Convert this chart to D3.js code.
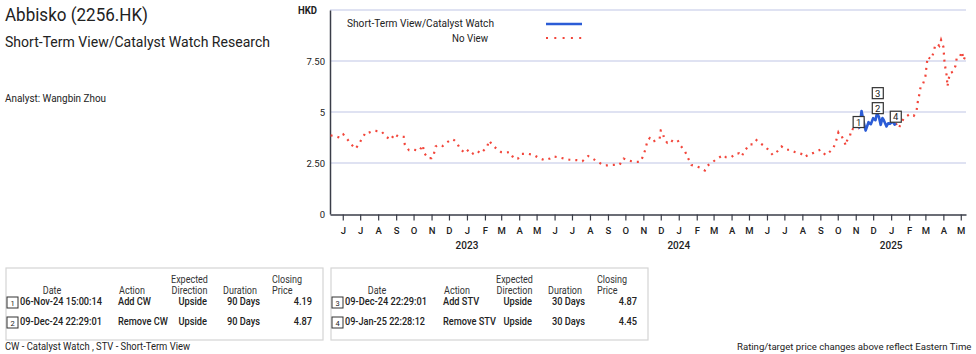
<!DOCTYPE html>
<html>
<head>
<meta charset="utf-8">
<script src="https://cdn.jsdelivr.net/npm/d3@7"></script>
<style>
  body { margin: 0; background: #fff; }
  svg text { font-family: Roboto, "Noto Sans", sans-serif; fill: #222; }
</style>
</head>
<body>
<svg id="chart" width="976" height="354"></svg>
<script>
// price history (HKD)
const priceDates = ["2022-05-11","2022-05-19","2022-05-28","2022-06-02","2022-06-08","2022-06-15","2022-06-23","2022-06-29","2022-07-04","2022-07-11","2022-07-15","2022-07-25","2022-08-07","2022-08-15","2022-08-23","2022-08-29","2022-09-05","2022-09-14","2022-09-16","2022-09-23","2022-09-30","2022-10-11","2022-10-17","2022-10-19","2022-10-26","2022-11-01","2022-11-05","2022-11-08","2022-11-12","2022-11-20","2022-11-27","2022-12-06","2022-12-10","2022-12-14","2022-12-20","2022-12-27","2023-01-01","2023-01-09","2023-01-18","2023-01-25","2023-02-01","2023-02-05","2023-02-08","2023-02-15","2023-02-21","2023-03-01","2023-03-09","2023-03-16","2023-03-23","2023-03-30","2023-04-05","2023-04-16","2023-04-26","2023-05-05","2023-05-15","2023-05-24","2023-05-29","2023-06-06","2023-06-17","2023-06-27","2023-07-09","2023-07-19","2023-07-29","2023-08-06","2023-08-16","2023-08-22","2023-08-28","2023-09-07","2023-09-14","2023-09-21","2023-09-28","2023-10-07","2023-10-17","2023-10-27","2023-11-01","2023-11-05","2023-11-08","2023-11-12","2023-11-17","2023-11-23","2023-11-29","2023-12-01","2023-12-04","2023-12-07","2023-12-12","2023-12-17","2023-12-22","2023-12-30","2024-01-04","2024-01-12","2024-01-17","2024-01-23","2024-01-31","2024-02-06","2024-02-15","2024-02-19","2024-02-26","2024-03-05","2024-03-12","2024-03-19","2024-03-22","2024-04-01","2024-04-09","2024-04-14","2024-04-18","2024-04-25","2024-05-02","2024-05-08","2024-05-14","2024-05-19","2024-05-27","2024-06-03","2024-06-11","2024-06-20","2024-06-26","2024-07-05","2024-07-11","2024-07-20","2024-07-30","2024-08-05","2024-08-11","2024-08-15","2024-08-23","2024-09-01","2024-09-10","2024-09-16","2024-09-23","2024-09-28","2024-10-02","2024-10-04","2024-10-07","2024-10-15","2024-10-17","2024-10-22","2024-10-25","2024-10-31","2024-11-06","2024-11-08","2024-11-11","2024-11-14","2024-11-18","2024-11-23","2024-11-27","2024-12-01","2024-12-05","2024-12-07","2024-12-09","2024-12-11","2024-12-14","2024-12-17","2024-12-19","2024-12-24","2024-12-27","2024-12-30","2025-01-04","2025-01-07","2025-01-09","2025-01-14","2025-01-23","2025-02-02","2025-02-09","2025-02-14","2025-02-16","2025-02-19","2025-02-21","2025-02-25","2025-03-01","2025-03-03","2025-03-05","2025-03-08","2025-03-11","2025-03-15","2025-03-18","2025-03-22","2025-03-25","2025-03-28","2025-04-01","2025-04-03","2025-04-05","2025-04-07","2025-04-08","2025-04-09","2025-04-12","2025-04-18","2025-04-22","2025-04-24","2025-04-29","2025-05-03","2025-05-06","2025-05-09"];
const priceValues = [3.85,3.82,3.73,3.90,3.70,3.43,3.20,3.43,3.70,4.01,3.98,4.08,4.04,3.78,3.64,3.93,3.78,3.78,3.39,3.13,3.16,3.10,3.38,3.00,2.74,2.74,2.94,3.31,3.38,3.33,3.50,3.67,3.62,3.52,3.21,3.02,3.15,2.92,3.10,2.97,3.18,3.31,3.60,3.35,3.20,3.03,3.02,3.03,2.71,2.72,2.95,2.95,2.90,2.74,2.64,2.72,2.82,2.79,2.72,2.66,2.64,2.59,2.84,2.71,2.53,2.43,2.38,2.40,2.41,2.41,2.72,2.61,2.56,2.56,2.87,3.21,3.60,3.72,3.54,3.62,3.68,4.09,4.06,3.67,3.50,3.64,3.55,3.62,3.36,3.06,2.74,2.40,2.35,2.28,2.13,2.36,2.49,2.67,2.79,2.89,2.79,2.80,2.97,2.97,2.82,3.15,3.41,3.41,3.62,3.50,3.34,3.16,2.89,3.10,3.31,3.15,3.15,3.03,2.95,2.79,2.90,2.94,3.03,3.15,2.89,3.02,3.20,3.57,3.99,3.88,3.87,3.36,3.60,3.83,4.18,4.11,4.19,4.30,5.05,4.60,4.09,4.50,4.40,4.70,4.60,4.86,4.87,4.75,4.37,4.70,4.62,4.29,4.45,4.42,4.53,4.38,4.45,4.21,4.71,4.89,4.81,5.09,5.51,5.92,6.28,6.38,6.74,7.26,7.70,7.64,7.59,7.91,8.28,8.33,8.24,8.53,8.20,7.44,7.06,6.74,6.25,6.41,6.90,6.98,7.27,7.64,7.68,7.96,7.55,7.75];

// Short-Term View / Catalyst Watch period
const viewPeriod = ["2024-11-06", "2025-01-09"];

// numbered markers on the chart
const markerNums = [1, 2, 3, 4];
const markerDates = ["2024-11-06", "2024-12-09", "2024-12-09", "2025-01-09"];
const markerPrices = [4.19, 4.87, 4.87, 4.45];

// y axis
const yTickValues = [0, 2.5, 5, 7.5];
const yTickLabels = ["0", "2.50", "5", "7.50"];
const yGridValues = [2.5, 5, 7.5, 10];

// action tables
const tableHeaders = ["Date", "Action", "Expected", "Direction", "Duration", "Closing", "Price"];
const tableLeft = [
  ["1", "06-Nov-24 15:00:14", "Add CW", "Upside", "90 Days", "4.19"],
  ["2", "09-Dec-24 22:29:01", "Remove CW", "Upside", "90 Days", "4.87"]
];
const tableRight = [
  ["3", "09-Dec-24 22:29:01", "Add STV", "Upside", "30 Days", "4.87"],
  ["4", "09-Jan-25 22:28:12", "Remove STV", "Upside", "30 Days", "4.45"]
];

const blue = "#2b5cd6", red = "#f2453a", grid = "#dfe2f2", axisCol = "#3a3d48";
const parse = d3.timeParse("%Y-%m-%d");
const svg = d3.select("#chart");

// squeeze text horizontally, the original font is narrow
function squeeze(sel, k) {
  sel.each(function() {
    let n = this.getComputedTextLength();
    d3.select(this).attr("textLength", n * k).attr("lengthAdjust", "spacingAndGlyphs");
  });
  return sel;
}
function fit(sel, w) {
  return sel.attr("textLength", w).attr("lengthAdjust", "spacingAndGlyphs");
}

const data = priceDates.map((d, i) => ({date: parse(d), value: priceValues[i]}));
const vStart = parse(viewPeriod[0]), vEnd = parse(viewPeriod[1]);

const xScale = d3.scaleTime()
  .domain([new Date(2022, 4, 10), new Date(2025, 4, 10)])
  .range([330, 966]);
const yScale = d3.scaleLinear().domain([0, 10]).range([214, 10]);

// titles
fit(svg.append("text").attr("x", 5).attr("y", 21)
  .style("font-size", "19px").text("Abbisko (2256.HK)"), 143);
fit(svg.append("text").attr("x", 5).attr("y", 47)
  .style("font-size", "15.5px").text("Short-Term View/Catalyst Watch Research"), 265);
fit(svg.append("text").attr("x", 5).attr("y", 102)
  .style("font-size", "10.5px").text("Analyst: Wangbin Zhou"), 101);
fit(svg.append("text").attr("x", 298).attr("y", 14)
  .style("font-size", "10.5px").style("font-weight", "bold").text("HKD"), 19);

// gridlines
svg.append("g").selectAll("line").data(yGridValues).join("line")
  .attr("x1", 330).attr("x2", 966)
  .attr("y1", d => yScale(d)).attr("y2", d => yScale(d))
  .attr("stroke", grid).attr("stroke-width", 2);

// axes
let yAxis = d3.axisLeft(yScale).tickValues(yTickValues)
  .tickFormat((d, i) => yTickLabels[i]).tickSize(0).tickPadding(5);
let yG = svg.append("g").attr("transform", "translate(330,0)").call(yAxis);
yG.select(".domain").attr("stroke", axisCol).attr("stroke-width", 1.5);
yG.selectAll("text").style("font-size", "9.5px").style("font-family", null).attr("dy", "0.35em");

let months = d3.timeMonth.range(new Date(2022, 5, 1), new Date(2025, 5, 1));
let xAxis = d3.axisBottom(xScale).tickValues(months)
  .tickFormat(d => d3.timeFormat("%b")(d)[0]).tickSizeInner(6).tickSizeOuter(0).tickPadding(7);
let xG = svg.append("g").attr("transform", "translate(0,214.5)").call(xAxis);
xG.select(".domain").attr("stroke", axisCol).attr("stroke-width", 1.5);
xG.selectAll(".tick line").attr("stroke", axisCol).attr("stroke-width", 1.2);
xG.selectAll("text").style("font-size", "9.5px").style("font-family", null).style("font-weight", 500);

svg.append("g").selectAll("text").data(months.filter(d => d.getMonth() === 0)).join("text")
  .attr("x", d => xScale(d)).attr("y", 249).attr("text-anchor", "middle")
  .style("font-size", "10px").style("font-weight", 500).text(d => d.getFullYear());

// price lines
let line = d3.line().x(d => xScale(d.date)).y(d => yScale(d.value));
let before = data.filter(d => d.date <= vStart);
let during = data.filter(d => d.date >= vStart && d.date <= vEnd);
let after = data.filter(d => d.date >= vEnd);
[before, after].forEach(seg => {
  svg.append("path").attr("d", line(seg)).attr("fill", "none")
    .attr("stroke", red).attr("stroke-width", 2.2).attr("stroke-dasharray", "2,5");
});
svg.append("path").attr("d", line(during)).attr("fill", "none")
  .attr("stroke", blue).attr("stroke-width", 2.6).attr("stroke-linejoin", "round");

// legend
fit(svg.append("text").attr("x", 494).attr("y", 27).attr("text-anchor", "end")
  .style("font-size", "11.5px").text("Short-Term View/Catalyst Watch"), 147);
fit(svg.append("text").attr("x", 488).attr("y", 41.5).attr("text-anchor", "end")
  .style("font-size", "11.5px").text("No View"), 36);
svg.append("line").attr("x1", 546).attr("x2", 582).attr("y1", 24).attr("y2", 24)
  .attr("stroke", blue).attr("stroke-width", 2.5);
svg.append("line").attr("x1", 546).attr("x2", 584).attr("y1", 38).attr("y2", 38)
  .attr("stroke", red).attr("stroke-width", 2).attr("stroke-dasharray", "2,6.3");

// numbered boxes
let seen = {};
markerNums.forEach((n, i) => {
  let key = markerDates[i];
  let stack = seen[key] || 0;
  seen[key] = stack + 1;
  let cx = xScale(parse(markerDates[i]));
  let bottom = yScale(markerPrices[i]) - 1 - stack * 15;
  let g = svg.append("g");
  g.append("rect").attr("x", cx - 5.5).attr("y", bottom - 11).attr("width", 11).attr("height", 11)
    .attr("fill", "#fff").attr("stroke", "#333").attr("stroke-width", 1.2);
  g.append("text").attr("x", cx).attr("y", bottom - 2).attr("text-anchor", "middle")
    .style("font-size", "9.5px").text(n);
});

// tables
function drawTable(x0, rows) {
  let g = svg.append("g").attr("transform", `translate(${x0},0)`);
  g.append("rect").attr("x", 6).attr("y", 268).attr("width", 317).attr("height", 72)
    .attr("fill", "none").attr("stroke", "#d4d4d4").attr("stroke-width", 1.2);
  const hs = "10px";
  const heads = [[52, 294, "middle"], [132, 294, "middle"], [189.5, 283, "middle"], [189.5, 294, "middle"],
                 [240, 294, "middle"], [272, 283, "start"], [272, 294, "start"]];
  heads.forEach((h, i) => {
    squeeze(g.append("text").attr("x", h[0]).attr("y", h[1]).attr("text-anchor", h[2])
      .style("font-size", hs).style("fill", "#333").text(tableHeaders[i]), 0.9);
  });
  rows.forEach((r, i) => {
    let yb = 305 + i * 20;
    g.append("rect").attr("x", 7).attr("y", yb - 8).attr("width", 11).attr("height", 11)
      .attr("fill", "#fff").attr("stroke", "#333").attr("stroke-width", 1);
    g.append("text").attr("x", 12.5).attr("y", yb + 1).attr("text-anchor", "middle").style("font-size", "7.5px").text(r[0]);
    // date column has wide letter spacing in the original
    fit(g.append("text").attr("x", 20).attr("y", yb)
      .style("font-size", "10.5px").style("font-weight", 500).text(r[1]), r[1].includes("Jan") ? 80 : 82);
    const cells = [[118, "start"], [207, "end"], [260, "end"], [312, "end"]];
    cells.forEach((c, j) => {
      squeeze(g.append("text").attr("x", c[0]).attr("y", yb).attr("text-anchor", c[1])
        .style("font-size", "10.5px").style("font-weight", 500).text(r[j + 2]), 0.88);
    });
  });
}
drawTable(0, tableLeft);
drawTable(325, tableRight);

fit(svg.append("text").attr("x", 5).attr("y", 350).style("font-size", "10.5px")
  .text("CW - Catalyst Watch , STV - Short-Term View"), 185);
svg.append("text").attr("x", 737).attr("y", 350).style("font-size", "9.6px")
  .text("Rating/target price changes above reflect Eastern Time");
</script>
</body>
</html>
